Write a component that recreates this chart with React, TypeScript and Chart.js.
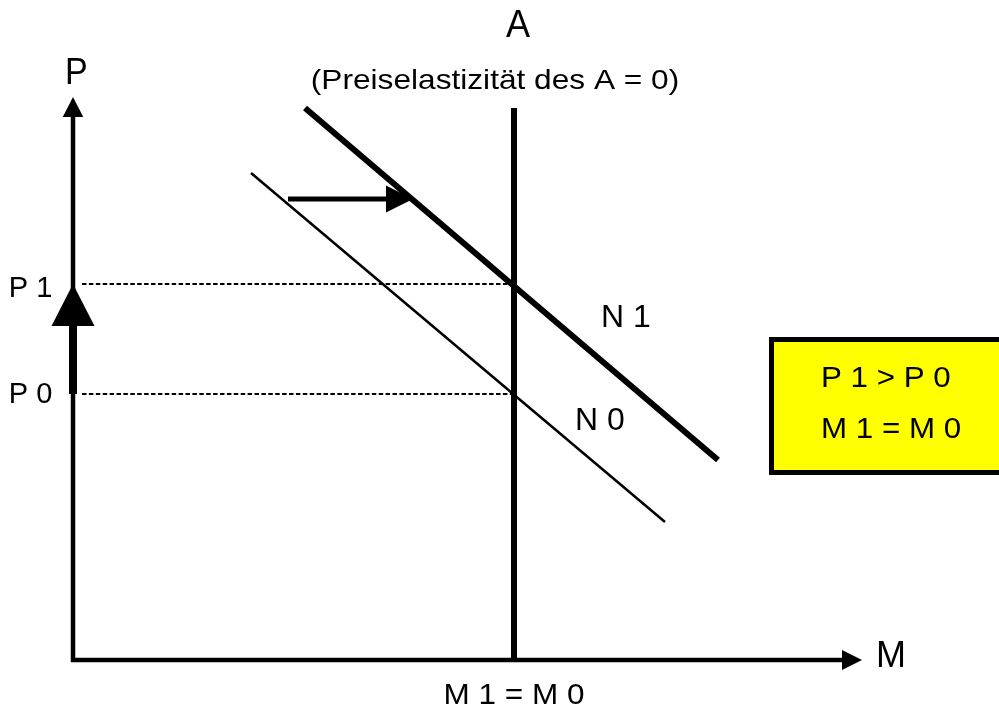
import React, { useEffect, useRef } from "react";
import { Chart, registerables } from "chart.js";

Chart.register(...registerables);

// ---- Data (diagram units: M = quantity, P = price, origin at the axis crossing) ----
const quantityAxisEnd = 78.9; // M-axis arrow tip
const priceAxisEnd = 56.3; // P-axis arrow tip
const supplyA_M = 44.1; // vertical supply A (price elasticity 0)
const supplyA_top = 55.2;
const demandN0 = [
  { x: 17.8, y: 48.7 },
  { x: 59.2, y: 13.8 },
];
const demandN1 = [
  { x: 23.2, y: 55.2 },
  { x: 64.5, y: 20.0 },
];
const priceP0 = 26.6;
const priceP1 = 37.6;
const dashStartM = 0.9;
const shiftArrow = [
  { x: 21.5, y: 46.1 },
  { x: 34.0, y: 46.1 },
];

// ---- Texts ----
const titleText = "A";
const subtitleText = "(Preiselastizität des A = 0)";
const priceAxisLabel = "P";
const quantityAxisLabel = "M";
const p1Label = "P 1";
const p0Label = "P 0";
const n1Label = "N 1";
const n0Label = "N 0";
const quantityLabel = "M 1 = M 0";
const boxLines = ["P 1 > P 0", "M 1 = M 0"];

const FONT = '"Liberation Sans", Arial, sans-serif';

// label layout (positions in diagram units; sx = horizontal stretch)
const labelLayout = [
  { text: titleText, x: 44.5, y: 62.33, size: 38, align: "center", sx: 0.95 },
  { text: subtitleText, x: 42.2, y: 57.1, size: 28, align: "center", sx: 1.13 },
  { text: priceAxisLabel, x: 0.33, y: 57.57, size: 37, align: "center", sx: 0.92 },
  { text: p1Label, x: -6.42, y: 36.33, size: 29, align: "left", sx: 1.0 },
  { text: p0Label, x: -6.42, y: 25.73, size: 29, align: "left", sx: 1.0 },
  { text: n1Label, x: 52.8, y: 33.33, size: 31, align: "left", sx: 1.03 },
  { text: n0Label, x: 50.2, y: 23.0, size: 31, align: "left", sx: 1.03 },
  { text: quantityAxisLabel, x: 80.3, y: -0.73, size: 36, align: "left", sx: 1.0 },
  { text: quantityLabel, x: 44.1, y: -4.4, size: 30, align: "center", sx: 1.05 },
  { text: boxLines[0], x: 74.8, y: 27.33, size: 29, align: "left", sx: 1.08 },
  { text: boxLines[1], x: 74.8, y: 22.17, size: 29, align: "left", sx: 1.08 },
];
const boxLayout = { left: 69.6, right: 95, top: 32.3, bottom: 18.5, border: 5, fill: "#FFFF00" };

function headGeom(chart: any, index: number, len: number) {
  const pts = chart.getDatasetMeta(index).data;
  const tip = pts[pts.length - 1];
  const prev = pts[pts.length - 2];
  const dx = tip.x - prev.x;
  const dy = tip.y - prev.y;
  const d = Math.hypot(dx, dy) || 1;
  const ux = dx / d;
  const uy = dy / d;
  return { tx: tip.x, ty: tip.y, ux, uy, bx: tip.x - ux * len, by: tip.y - uy * len };
}

const arrowPlugin = {
  id: "arrowHeads",
  beforeDatasetDraw(chart: any, args: any) {
    const ds: any = chart.data.datasets[args.index];
    if (!ds.arrowHead) return;
    const g = headGeom(chart, args.index, ds.arrowHead.length);
    const ctx = chart.ctx;
    const px = -g.uy;
    const py = g.ux;
    const L = 4000;
    const cx = g.bx + g.ux * 1;
    const cy = g.by + g.uy * 1;
    ctx.save();
    ctx.beginPath();
    ctx.moveTo(cx + px * L, cy + py * L);
    ctx.lineTo(cx - px * L, cy - py * L);
    ctx.lineTo(cx - px * L - g.ux * L, cy - py * L - g.uy * L);
    ctx.lineTo(cx + px * L - g.ux * L, cy + py * L - g.uy * L);
    ctx.closePath();
    ctx.clip();
  },
  afterDatasetDraw(chart: any, args: any) {
    const ds: any = chart.data.datasets[args.index];
    if (!ds.arrowHead) return;
    const ctx = chart.ctx;
    ctx.restore();
    const g = headGeom(chart, args.index, ds.arrowHead.length);
    const hw = ds.arrowHead.width / 2;
    const px = -g.uy;
    const py = g.ux;
    ctx.save();
    ctx.fillStyle = "#000";
    ctx.beginPath();
    ctx.moveTo(g.tx, g.ty);
    ctx.lineTo(g.bx + px * hw, g.by + py * hw);
    ctx.lineTo(g.bx - px * hw, g.by - py * hw);
    ctx.closePath();
    ctx.fill();
    ctx.restore();
  },
};

const annotationPlugin = {
  id: "diagramText",
  afterDraw(chart: any) {
    const ctx = chart.ctx;
    const xs = chart.scales.x;
    const ys = chart.scales.y;
    ctx.save();
    // box
    const bl = xs.getPixelForValue(boxLayout.left);
    const br = xs.getPixelForValue(boxLayout.right);
    const bt = ys.getPixelForValue(boxLayout.top);
    const bb = ys.getPixelForValue(boxLayout.bottom);
    const h = boxLayout.border / 2;
    ctx.fillStyle = boxLayout.fill;
    ctx.fillRect(bl, bt, br - bl, bb - bt);
    ctx.strokeStyle = "#000";
    ctx.lineWidth = boxLayout.border;
    ctx.strokeRect(bl + h, bt + h, br - bl - 2 * h, bb - bt - 2 * h);
    // texts
    ctx.fillStyle = "#000";
    ctx.textBaseline = "alphabetic";
    for (const l of labelLayout) {
      ctx.save();
      ctx.font = `${l.size}px ${FONT}`;
      ctx.textAlign = l.align;
      ctx.translate(xs.getPixelForValue(l.x), ys.getPixelForValue(l.y));
      ctx.scale(l.sx, 1);
      ctx.fillText(l.text, 0, 0);
      ctx.restore();
    }
    ctx.restore();
  },
};

function line(data: any[], width: number, extra: any = {}) {
  return {
    data,
    borderColor: "#000",
    backgroundColor: "#000",
    borderWidth: width,
    borderCapStyle: "butt",
    pointRadius: 0,
    showLine: true,
    fill: false,
    tension: 0,
    ...extra,
  };
}

export default function App() {
  const ref = useRef<HTMLCanvasElement | null>(null);
  useEffect(() => {
    if (!ref.current) return;
    const chart = new Chart(ref.current, {
      type: "scatter",
      data: {
        datasets: [
          line([{ x: dashStartM, y: priceP1 }, { x: supplyA_M, y: priceP1 }], 2, { borderDash: [4.5, 2.4] }),
          line([{ x: dashStartM, y: priceP0 }, { x: supplyA_M, y: priceP0 }], 2, { borderDash: [4.5, 2.4] }),
          line([{ x: -0.2, y: 0 }, { x: quantityAxisEnd, y: 0 }], 4.5, { arrowHead: { length: 20, width: 20 } }),
          line([{ x: 0, y: -0.2 }, { x: 0, y: priceAxisEnd }], 4.5, { arrowHead: { length: 20, width: 20.5 } }),
          line([{ x: supplyA_M, y: 0 }, { x: supplyA_M, y: supplyA_top }], 6),
          line(demandN0, 2.5),
          line(demandN1, 6),
          line(shiftArrow, 5, { arrowHead: { length: 27, width: 27 } }),
          line([{ x: 0, y: priceP0 }, { x: 0, y: priceP1 }], 8, { arrowHead: { length: 42, width: 43 } }),
        ] as any,
      },
      options: {
        animation: false,
        responsive: false,
        devicePixelRatio: 1,
        layout: { padding: 0 },
        plugins: { legend: { display: false }, tooltip: { enabled: false } },
        scales: {
          x: { type: "linear", min: -7.3, max: 92.6, display: false },
          y: { type: "linear", min: -4.9, max: 66.0, display: false },
        },
      } as any,
      plugins: [arrowPlugin, annotationPlugin],
    });
    return () => chart.destroy();
  }, []);
  return (
    <div style={{ position: "absolute", left: 0, top: 0, width: 999, height: 709, background: "#fff" }}>
      <canvas ref={ref} width={999} height={709} />
    </div>
  );
}
